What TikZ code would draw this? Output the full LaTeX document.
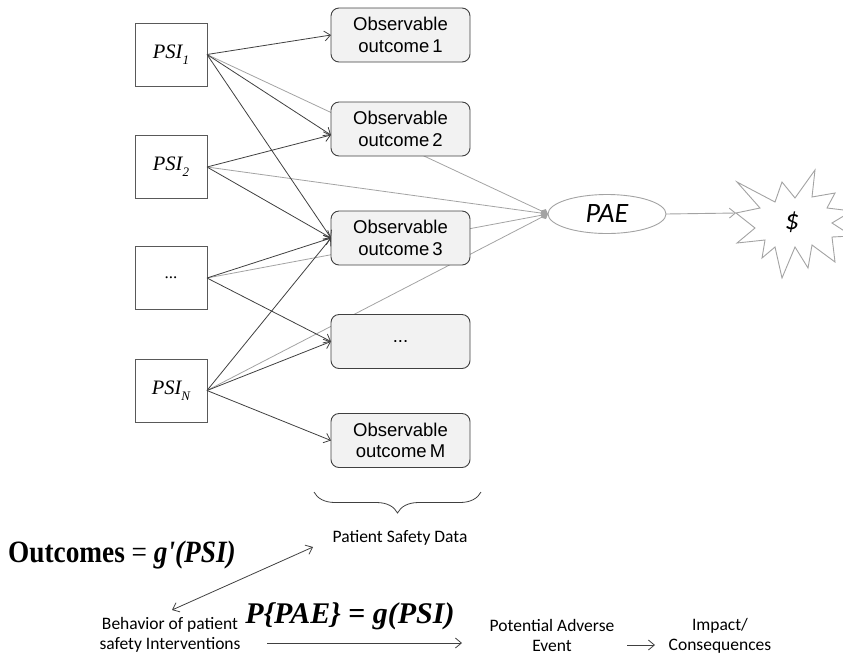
\documentclass[tikz,border=0pt]{standalone}
\usepackage{fontspec}
\setmainfont{Liberation Serif}
\newfontfamily\arialfont{Liberation Sans}
\newfontfamily\calfont{Carlito}
\usetikzlibrary{arrows.meta,shapes.geometric,backgrounds,decorations.pathreplacing}

\definecolor{darkline}{HTML}{404040}
\definecolor{grayline}{HTML}{A3A3A3}
\definecolor{boxedge}{HTML}{595959}
\definecolor{boxfill}{HTML}{F2F2F2}

\begin{document}
\begin{tikzpicture}[x=1pt,y=-1pt,
  psibox/.style={draw=boxedge, fill=white, line width=0.8pt, minimum width=72pt,
    minimum height=63pt, inner sep=0pt, outer sep=0pt,
    font=\fontsize{20.5}{22}\selectfont\itshape},
  outbox/.style={draw=darkline, fill=boxfill, line width=0.9pt, rounded corners=8pt,
    minimum width=139pt, minimum height=54pt, inner sep=0pt, outer sep=0pt,
    align=center, font=\arialfont\fontsize{18.5}{21.5}\selectfont},
  darkarrow/.style={draw=darkline, line width=0.8pt,
    -{Straight Barb[length=6pt,width=10pt]}},
  pathline/.style={draw=grayline, line width=0.8pt,
    -{Diamond[length=8pt,width=7pt]}},
  costline/.style={draw=grayline, line width=0.9pt,
    -{Straight Barb[length=6pt,width=10pt]}},
  label/.style={inner sep=0pt, align=center,
    font=\calfont\fontsize{17.5}{20}\selectfont},
]
\useasboundingbox (0,0) rectangle (843,657);
\clip (0,0) rectangle (843,657);

% interventions
\node[psibox] (psi1) at (171,54.5) {PSI\raisebox{-0.3em}{\fontsize{13}{13}\selectfont 1}};
\node[psibox] (psi2) at (171,167) {PSI\raisebox{-0.3em}{\fontsize{13}{13}\selectfont 2}};
\node[psibox] (psid) at (171,278) {\upshape\fontsize{17}{17}\selectfont ...};
\node[psibox] (psin) at (171,390.5) {PSI\raisebox{-0.3em}{\fontsize{13}{13}\selectfont N}};

% observable outcomes
\node[outbox] (o1) at (400.5,35) {Observable\\outcome\,1};
\node[outbox] (o2) at (400.5,129) {Observable\\outcome\,2};
\node[outbox] (o3) at (400.5,238) {Observable\\outcome\,3};
\node[outbox] (o4) at (400.5,341.5) {...};
\node[outbox] (om) at (400.5,440.5) {Observable\\outcome\,M};

% potential adverse event
\node[ellipse, draw=grayline, fill=white, line width=0.9pt, minimum width=118pt,
  minimum height=39pt, inner sep=0pt, outer sep=0pt,
  font=\calfont\itshape\fontsize{28}{28}\selectfont] (pae) at (607,214) {PAE};

% cost burst
\coordinate (burst) at (736,213);
\draw[grayline, line width=0.9pt, fill=white, line join=miter]
  (burst) -- (760,208) -- (737,182) -- (775,202) -- (782,182) -- (795,198)
  -- (815,170) -- (812,197) -- (835,193) -- (827,208) -- (852,211)
  -- (832,223) -- (852,236) -- (832,237) -- (835,262) -- (812,245)
  -- (808,268) -- (795,247) -- (782,278) -- (775,247) -- (762,258)
  -- (765,240) -- (737,243) -- (755,228) -- cycle;
\node[inner sep=0pt, font=\calfont\itshape\fontsize{28}{28}\selectfont] (cost) at (792,222) {\$};

% direct links to outcomes
\draw[darkarrow] (psi1.east) -- (o1.west);
\draw[darkarrow] (psi1.east) -- ([yshift=-6pt]o2.west);
\draw[darkarrow] (psi1.east) -- (o3.west);
\draw[darkarrow] (psi2.east) -- ([yshift=-6pt]o2.west);
\draw[darkarrow] (psi2.east) -- (o3.west);
\draw[darkarrow] (psid.east) -- (o3.west);
\draw[darkarrow] (psid.east) -- (o4.west);
\draw[darkarrow] (psin.east) -- (o3.west);
\draw[darkarrow] (psin.east) -- (o4.west);
\draw[darkarrow] (psin.east) -- (om.west);

% links to the adverse event, behind the outcome boxes
\begin{pgfonlayer}{background}
\draw[pathline] (psi1.east) -- (pae.west);
\draw[pathline] (psi2.east) -- (pae.west);
\draw[pathline] (psid.east) -- (pae.west);
\draw[pathline] (psin.east) -- (pae.west);
\end{pgfonlayer}

\draw[costline] (pae.east) -- (burst);

% data brace
\coordinate (brR) at (481,492);
\coordinate (brL) at (314,492);
\draw[darkline, line width=0.8pt, decorate, decoration={brace, amplitude=21pt}] (brR) -- (brL);

% bottom summary
\node[label] (psd) at (400,538) {Patient Safety Data};
\node[inner sep=0pt] (outeq) at (122,555)
  {\scalebox{0.88}[1]{\fontsize{31}{31}\selectfont\textbf{Outcomes} = \textbf{\itshape g\textquotesingle(PSI)}}};
\node[label] (beh) at (170,635) {Behavior of patient\\safety Interventions};
\node[inner sep=0pt] (paeeq) at (350,616)
  {\fontsize{30}{30}\selectfont\bfseries\itshape P\{PAE\} {\upshape =} g(PSI)};
\node[label] (pot) at (552,635) {Potential Adverse\\Event};
\node[label] (imp) at (720,636) {Impact/\\Consequences};

\coordinate (dA) at (313,547);
\coordinate (dB) at (172,610);
\draw[darkline, line width=0.8pt, {Straight Barb[length=6pt,width=10pt]}-{Straight Barb[length=6pt,width=10pt]}] (dA) -- (dB);

\coordinate (gA) at (267,643);
\coordinate (gB) at (462,643);
\draw[darkarrow] (gA) -- (gB);
\coordinate (cA) at (627,645);
\coordinate (cB) at (655,645);
\draw[darkarrow] (cA) -- (cB);
\end{tikzpicture}
\end{document}
